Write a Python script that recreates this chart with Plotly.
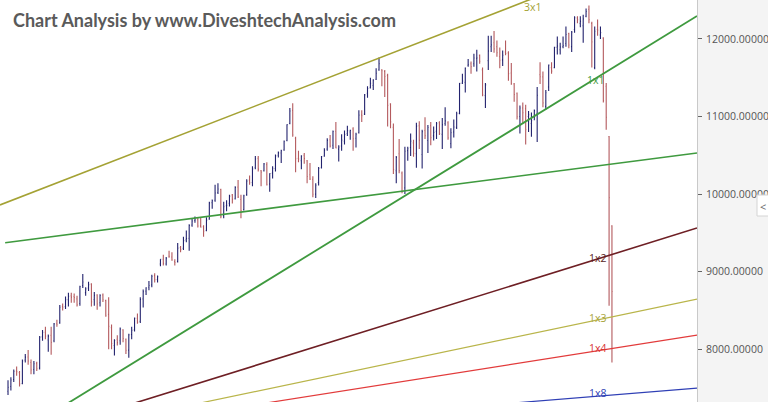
import pandas as pd
import plotly.graph_objects as go

# ---------------- data (weekly bars) ----------------
first_week = "2016-03-07"

opens = [
    7460, 7520, 7610, 7720, 7700, 7560, 7860, 7900, 7830, 7740,
    7820, 7760, 8160, 8220, 8120, 8180, 8110, 8330, 8340, 8550,
    8550, 8640, 8690, 8680, 8650, 8590, 8820, 8730, 8790, 8840,
    8640, 8700, 8600, 8700, 8630, 8450, 8280, 8050, 8130, 8110,
    8250, 8130, 7990, 8190, 8250, 8400, 8360, 8650, 8750, 8800,
    8830, 8950, 8900, 9100, 9160, 9100, 9200, 9190, 9130, 9130,
    9310, 9300, 9410, 9430, 9600, 9660, 9670, 9590, 9580, 9530,
    9680, 9890, 9920, 10020, 10060, 9720, 9850, 9880, 9990, 9940,
    10090, 9930, 9800, 9990, 10180, 10150, 10340, 10460, 10300, 10300,
    10380, 10130, 10270, 10330, 10500, 10530, 10570, 10690, 10910, 11080,
    10720, 10460, 10430, 10500, 10430, 10250, 10190, 10000, 10150, 10340,
    10490, 10580, 10700, 10630, 10810, 10580, 10620, 10680, 10780, 10800,
    10840, 10720, 10790, 11020, 11030, 11300, 11370, 11400, 11480, 11600,
    11600, 11580, 11530, 11160, 10860, 10300, 10520, 10270, 10080, 10560,
    10600, 10660, 10520, 10880, 10510, 10820, 10690, 10880, 10750, 10810,
    10920, 10770, 10910, 10920, 10650, 10800, 10860, 11040, 11430, 11440,
    11660, 11680, 11680, 11750, 11790, 11600, 11270, 11720, 11900, 11950,
    11900, 11770, 11730, 11830, 11820, 11560, 11420, 11300, 11000, 11110,
    11100, 11000, 10910, 11000, 11040, 11540, 11510, 11130, 11380, 11630,
    11630, 11890, 11860, 11900, 11940, 12070, 11900, 12120, 12270, 12200,
    12170, 12290, 12380, 12200, 11630, 12120, 12050, 12010, 11390, 10740, 9590,
]
highs = [
    7600, 7640, 7740, 7780, 7720, 7870, 7940, 7990, 7870, 7850,
    7840, 8170, 8250, 8290, 8190, 8290, 8340, 8380, 8570, 8590,
    8680, 8730, 8730, 8720, 8690, 8820, 8970, 8800, 8870, 8850,
    8740, 8710, 8710, 8720, 8640, 8670, 8320, 8130, 8180, 8280,
    8260, 8140, 8200, 8290, 8410, 8460, 8670, 8770, 8800, 8880,
    8960, 8980, 8950, 9160, 9220, 9190, 9270, 9250, 9160, 9370,
    9330, 9450, 9530, 9610, 9680, 9710, 9700, 9700, 9600, 9700,
    9900, 9930, 10120, 10140, 10070, 9900, 9920, 9990, 10000, 10100,
    10180, 9990, 9990, 10190, 10240, 10360, 10490, 10490, 10310, 10400,
    10410, 10270, 10360, 10510, 10550, 10570, 10690, 10900, 11110, 11170,
    10740, 10560, 10500, 10530, 10440, 10400, 10230, 10140, 10350, 10490,
    10590, 10720, 10760, 10820, 10930, 10630, 10770, 10820, 10880, 10830,
    10860, 10790, 11080, 11080, 11290, 11390, 11500, 11480, 11620, 11760,
    11610, 11600, 11550, 11170, 10910, 10490, 10710, 10290, 10610, 10610,
    10780, 10700, 10920, 10940, 10830, 10990, 10890, 10930, 10870, 10930,
    10940, 10980, 11120, 10940, 10850, 10960, 11060, 11430, 11550, 11630,
    11740, 11710, 11810, 11860, 11800, 11630, 11430, 12040, 12040, 12100,
    11980, 11890, 11850, 11980, 11840, 11690, 11430, 11310, 11140, 11180,
    11150, 11070, 11050, 11090, 11380, 11700, 11580, 11340, 11670, 11700,
    11900, 12030, 11950, 12030, 12160, 12080, 12100, 12290, 12290, 12290,
    12310, 12390, 12430, 12220, 12160, 12250, 12160, 12020, 11430, 10750, 9600,
]
lows = [
    7410, 7470, 7580, 7660, 7520, 7550, 7830, 7800, 7680, 7680,
    7720, 7740, 8110, 8130, 7970, 7930, 8090, 8290, 8330, 8500,
    8520, 8550, 8600, 8600, 8550, 8560, 8790, 8690, 8750, 8550,
    8560, 8510, 8550, 8610, 8420, 8000, 8000, 7920, 8050, 8060,
    8090, 7940, 7890, 8130, 8230, 8330, 8340, 8540, 8700, 8760,
    8800, 8860, 8860, 9070, 9080, 9080, 9180, 9140, 9080, 9120,
    9250, 9280, 9380, 9270, 9580, 9630, 9570, 9570, 9450, 9520,
    9670, 9810, 9900, 10000, 9690, 9690, 9780, 9840, 9880, 9930,
    9950, 9690, 9790, 9980, 10120, 10100, 10320, 10290, 10100, 10290,
    10110, 10030, 10200, 10290, 10470, 10400, 10560, 10680, 10900, 10740,
    10280, 10410, 10320, 10390, 10140, 10180, 9960, 9950, 10110, 10330,
    10480, 10560, 10600, 10580, 10590, 10420, 10560, 10640, 10750, 10700,
    10560, 10600, 10780, 10930, 11020, 11240, 11360, 11340, 11470, 11590,
    11390, 11250, 10870, 10850, 10260, 10140, 10270, 10010, 10000, 10430,
    10490, 10480, 10340, 10580, 10330, 10710, 10530, 10630, 10690, 10710,
    10760, 10580, 10880, 10700, 10590, 10730, 10840, 11030, 11420, 11310,
    11640, 11550, 11640, 11580, 11680, 11260, 11110, 11600, 11830, 11820,
    11770, 11620, 11650, 11790, 11460, 11410, 11190, 10960, 10780, 10920,
    10640, 10800, 10740, 10950, 10670, 11420, 11120, 11090, 11330, 11550,
    11620, 11800, 11800, 11880, 11900, 11880, 11830, 12080, 12200, 12150,
    11950, 12280, 12200, 11630, 11610, 12040, 12000, 11180, 10830, 8560, 7830,
]
closes = [
    7510, 7604, 7716, 7713, 7555, 7850, 7899, 7850, 7733, 7814,
    7750, 8156, 8220, 8170, 8170, 8089, 8328, 8323, 8541, 8541,
    8638, 8683, 8672, 8667, 8573, 8809, 8867, 8779, 8831, 8611,
    8697, 8583, 8693, 8638, 8433, 8296, 8074, 8114, 8086, 8261,
    8139, 7986, 8186, 8244, 8400, 8349, 8641, 8741, 8794, 8822,
    8940, 8898, 8935, 9160, 9108, 9174, 9198, 9150, 9119, 9304,
    9285, 9400, 9427, 9595, 9653, 9668, 9588, 9575, 9521, 9665,
    9886, 9915, 10015, 10066, 9710, 9837, 9857, 9974, 9934, 10085,
    9964, 9789, 9979, 10167, 10147, 10323, 10453, 10322, 10283, 10390,
    10121, 10266, 10333, 10493, 10531, 10559, 10681, 10895, 11070, 10761,
    10455, 10452, 10491, 10458, 10227, 10195, 9998, 10114, 10332, 10481,
    10564, 10692, 10618, 10807, 10596, 10605, 10696, 10768, 10818, 10822,
    10714, 10772, 11018, 11010, 11278, 11361, 11429, 11470, 11557, 11681,
    11589, 11515, 11143, 10930, 10316, 10472, 10303, 10030, 10553, 10585,
    10682, 10526, 10876, 10694, 10805, 10754, 10859, 10727, 10795, 10907,
    10780, 10894, 10944, 10724, 10792, 10864, 11035, 11427, 11457, 11624,
    11666, 11643, 11753, 11755, 11712, 11279, 11407, 11844, 11923, 11871,
    11823, 11724, 11789, 11811, 11552, 11419, 11284, 10997, 11109, 11048,
    10829, 11023, 10946, 11076, 11274, 11512, 11175, 11305, 11662, 11584,
    11891, 11908, 11895, 11914, 12056, 11921, 12087, 12272, 12246, 12227,
    12257, 12352, 12248, 11962, 12098, 12113, 12081, 11202, 10990, 9955, 8745,
]

# Gann fan / trend lines: (start date, start price) -> (end date, end price)
line_start_date = "2016-02-16 12:00"
line_end_date = "2020-10-09"
fan_names = ["1x1", "1x2", "1x3", "1x4", "1x8"]
fan_start_price = [6767, 6767, 6767, 6767, 6767]
fan_end_price = [12295, 9563, 8648, 8184, 7501]

channel_3x1_start_price = 9860
channel_3x1_end_price = 13341

green_line_start_date = "2016-02-29"
green_line_start_price = 9374
green_line_end_price = 10530

# labels placed along the lines
label_texts = ["3x1", "1x1", "1x2", "1x3", "1x4", "1x8"]
label_dates = ["2019-09-06", "2020-02-06", "2020-02-11", "2020-02-11", "2020-02-11", "2020-02-11"]
label_prices = [12411, 11470, 9177, 8403, 8017, 7437]

y_ticks = [8000, 9000, 10000, 11000, 12000]
y_range = [7321, 12501]
x_range = [line_start_date, line_end_date]

title_text = "Chart Analysis by www.DiveshtechAnalysis.com"

# ---------------- figure ----------------
dates = pd.date_range(first_week, periods=len(closes), freq="7D")

fig = go.Figure()

fan_colors = ["#3f9a3f", "#6e1f24", "#b9b54a", "#e23b3b", "#2f3fb5"]
fan_widths = [1.8, 1.6, 1.2, 1.2, 1.2]

fig.add_trace(go.Scatter(
    x=[line_start_date, line_end_date],
    y=[channel_3x1_start_price, channel_3x1_end_price],
    mode="lines", line=dict(color="#a4a234", width=1.6), hoverinfo="skip",
    showlegend=False))
fig.add_trace(go.Scatter(
    x=[green_line_start_date, line_end_date],
    y=[green_line_start_price, green_line_end_price],
    mode="lines", line=dict(color="#3f9a3f", width=1.6), hoverinfo="skip",
    showlegend=False))
for name, p0, p1, c, w in zip(fan_names, fan_start_price, fan_end_price, fan_colors, fan_widths):
    fig.add_trace(go.Scatter(
        x=[line_start_date, line_end_date], y=[p0, p1], name=name,
        mode="lines", line=dict(color=c, width=w), hoverinfo="skip",
        showlegend=False))

fig.add_trace(go.Ohlc(
    x=dates, open=opens, high=highs, low=lows, close=closes,
    increasing=dict(line=dict(color="#23236e", width=1.1)),
    decreasing=dict(line=dict(color="#b45a5e", width=1.1)),
    tickwidth=0.25, showlegend=False))

label_colors = ["#a4a234", "#3f9a3f", "#5a1c1c", "#a8a43c", "#d83434", "#2f3fb5"]
for t, d, p, c in zip(label_texts, label_dates, label_prices, label_colors):
    fig.add_annotation(x=d, y=p, xref="x", yref="y", text=t, showarrow=False,
                       xanchor="center", yanchor="middle",
                       font=dict(family="Open Sans", size=10.5, color=c))

fig.add_annotation(x=11 / 697, y=1 - 20 / 402, xref="paper", yref="paper",
                   text=title_text, showarrow=False, xanchor="left", yanchor="middle",
                   font=dict(family="Lato", size=18, color="#5a5a5a", weight="bold"))

# small collapse button on the price scale
fig.add_shape(type="rect", xref="paper", yref="paper",
              x0=757 / 697, x1=772 / 697, y0=1 - 216 / 402, y1=1 - 195 / 402,
              fillcolor="white", line=dict(color="#d4d4d4", width=1))
fig.add_annotation(x=762.5 / 697, y=1 - 206 / 402, xref="paper", yref="paper",
                   text="<", showarrow=False, xanchor="center", yanchor="middle",
                   font=dict(family="Open Sans", size=11, color="#666666"))

fig.update_layout(
    width=768, height=402,
    margin=dict(l=0, r=71, t=0, b=0),
    paper_bgcolor="#f4f4f4", plot_bgcolor="white",
    showlegend=False,
    xaxis=dict(type="date", range=x_range, visible=False,
               rangeslider=dict(visible=False), showgrid=False),
    yaxis=dict(side="right", range=y_range, tickvals=y_ticks, tickformat=".5f",
               showgrid=False, zeroline=False, showline=True, linecolor="#c9c9c9",
               linewidth=1, ticks="outside", ticklen=4, tickcolor="#666666",
               tickfont=dict(family="Open Sans", size=10.5, color="#555555"),
               ticklabelstandoff=2),
)

fig.write_html("out.html",
               config={"displayModeBar": False},
               post_script="document.body.style.margin='0px';document.body.style.overflow='hidden';")
